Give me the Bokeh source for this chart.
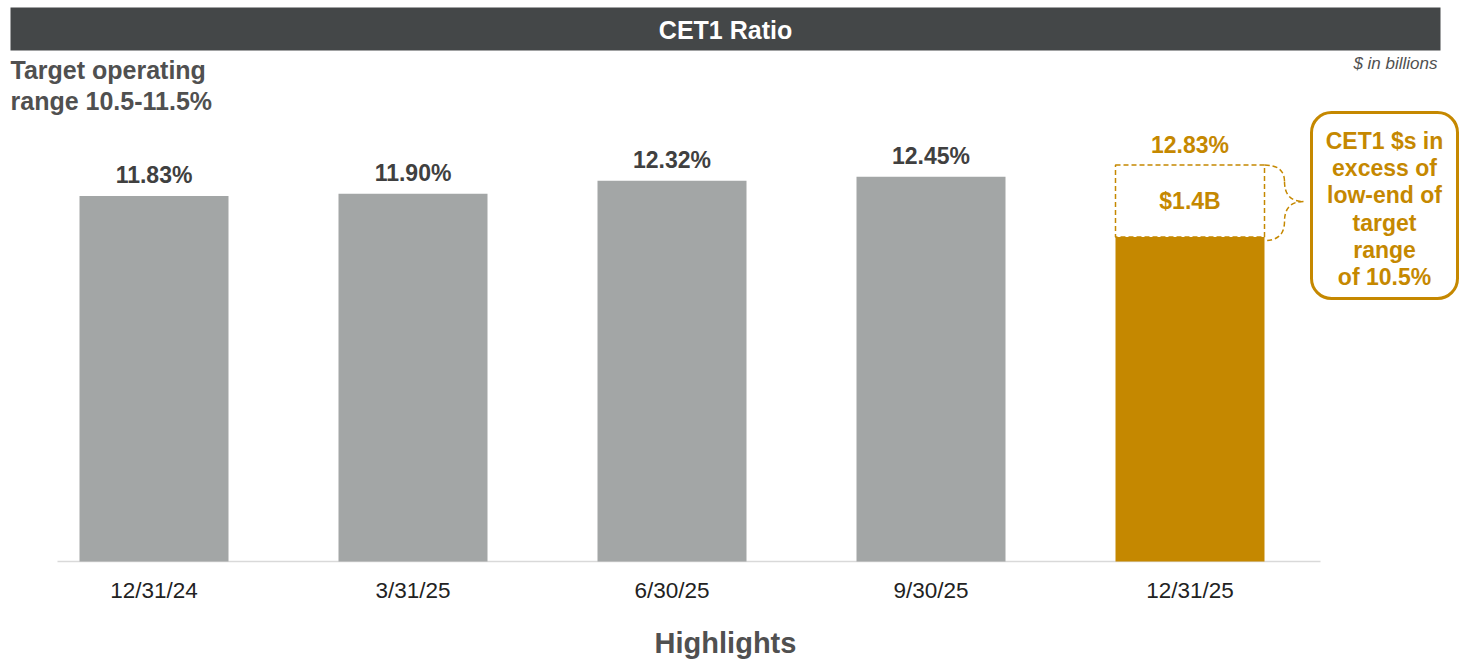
from bokeh.plotting import figure
from bokeh.models import Range1d, BoxAnnotation
from bokeh.core.properties import value
from bokeh.embed import file_html
from bokeh.resources import INLINE

# ---- data ----
categories = ["12/31/24", "3/31/25", "6/30/25", "9/30/25", "12/31/25"]
cet1_ratio = [11.83, 11.90, 12.32, 12.45, 12.83]
ratio_labels = ["11.83%", "11.90%", "12.32%", "12.45%", "12.83%"]
target_low = 10.5
excess_label = "$1.4B"
callout_lines = ["CET1 $s in", "excess of", "low-end of", "target", "range", "of 10.5%"]

# ---- layout constants ----
W, H = 1466, 661
X0_PX, STEP_PX = 153.5, 259.0     # centre of first bar, spacing
BASE_PX, PX_PER_PCT = 561.0, 30.9  # baseline pixel, pixels per percent
BAR_W = 149.0 / STEP_PX

GRAY = "#a3a6a6"
GOLD = "#c58800"
DARK = "#444748"
TXT = "#404040"
FONT = "Liberation Sans"


def px2x(px):
    return (px - X0_PX) / STEP_PX


def px2y(py):
    return (BASE_PX - py) / PX_PER_PCT


p = figure(width=W, height=H, output_backend="svg", toolbar_location=None,
           x_range=Range1d(px2x(0), px2x(W)), y_range=Range1d(px2y(H), px2y(0)),
           min_border=0, outline_line_color=None)
p.axis.visible = False
p.grid.visible = False
p.background_fill_color = "white"
p.border_fill_color = "white"

# title bar
p.quad(left=[px2x(10)], right=[px2x(1440)], top=[px2y(7)], bottom=[px2y(50)],
       fill_color=DARK, line_color=None)
p.text(x=[px2x(725)], y=[px2y(29)], text=["CET1 Ratio"], text_color="white",
       text_font=value(FONT), text_font_style="bold", text_font_size="25px",
       text_align="center", text_baseline="middle")

# subtitle
p.text(x=[px2x(10)] * 2, y=[px2y(69), px2y(100)],
       text=["Target operating", "range 10.5-11.5%"], text_color="#505050",
       text_font=value(FONT), text_font_style="bold", text_font_size="25px",
       text_align="left", text_baseline="middle")
p.text(x=[px2x(1437)], y=[px2y(63)], text=["$ in billions"], text_color="#505050",
       text_font=value(FONT), text_font_style="italic", text_font_size="17px",
       text_align="right", text_baseline="middle")

# baseline
p.segment(x0=[px2x(57)], x1=[px2x(1320)], y0=[0], y1=[0],
          line_color="#d9d9d9", line_width=1.5)

# bars
xs = list(range(len(categories)))
gray_x = xs[:-1]
gray_top = cet1_ratio[:-1]
p.vbar(x=gray_x, top=gray_top, bottom=0, width=BAR_W, fill_color=GRAY, line_color=None)
p.vbar(x=[xs[-1]], top=[target_low], bottom=0, width=BAR_W, fill_color=GOLD, line_color=None)
# dashed excess box
p.quad(left=[xs[-1] - BAR_W / 2], right=[xs[-1] + BAR_W / 2],
       top=[cet1_ratio[-1]], bottom=[target_low],
       fill_color=None, line_color=GOLD, line_width=1.5, line_dash="5 3")
p.text(x=[xs[-1]], y=[(cet1_ratio[-1] + target_low) / 2], text=[excess_label],
       text_color=GOLD, text_font=value(FONT), text_font_style="bold",
       text_font_size="23px", text_align="center", text_baseline="middle")

# value labels
lab_off = 20.5 / PX_PER_PCT
lab_colors = [TXT] * (len(categories) - 1) + [GOLD]
p.text(x=xs, y=[v + lab_off for v in cet1_ratio], text=ratio_labels,
       text_color=lab_colors, text_font=value(FONT), text_font_style="bold",
       text_font_size="23px", text_align="center", text_baseline="middle")

# category labels
p.text(x=xs, y=[px2y(590)] * len(xs), text=categories, text_color="#222222",
       text_font=value(FONT), text_font_size="22.5px",
       text_align="center", text_baseline="middle")

# brace
xr = xs[-1] + BAR_W / 2
xm = px2x(1284)
xt = px2x(1303)
ytop = cet1_ratio[-1]
ybot = px2y(240)
ymid = px2y(201)
y1 = px2y(181)
y2 = px2y(221)
p.quadratic(x0=[xr, xm, xt, xm], y0=[ytop, y1, ymid, y2],
            x1=[xm, xt, xm, xr], y1=[y1, ymid, y2, ybot],
            cx=[xm, xm, xm, xm], cy=[ytop, ymid, ymid, ybot],
            line_color=GOLD, line_width=1.5, line_dash="5 3")

# callout box
box = BoxAnnotation(left=px2x(1311), right=px2x(1457), top=px2y(112), bottom=px2y(298),
                    fill_color=None, fill_alpha=0, line_color=GOLD, line_alpha=1.0,
                    line_width=3, border_radius=20)
p.add_layout(box)
line_y = [140, 167, 194, 222, 249, 276]
p.text(x=[px2x(1384)] * len(callout_lines), y=[px2y(v) for v in line_y],
       text=callout_lines, text_color=GOLD, text_font=value(FONT),
       text_font_style="bold", text_font_size="23px",
       text_align="center", text_baseline="middle")

# footer heading
p.text(x=[px2x(725)], y=[px2y(642)], text=["Highlights"], text_color="#505050",
       text_font=value(FONT), text_font_style="bold", text_font_size="29px",
       text_align="center", text_baseline="middle")

open("out.html", "w").write(file_html(p, INLINE))
